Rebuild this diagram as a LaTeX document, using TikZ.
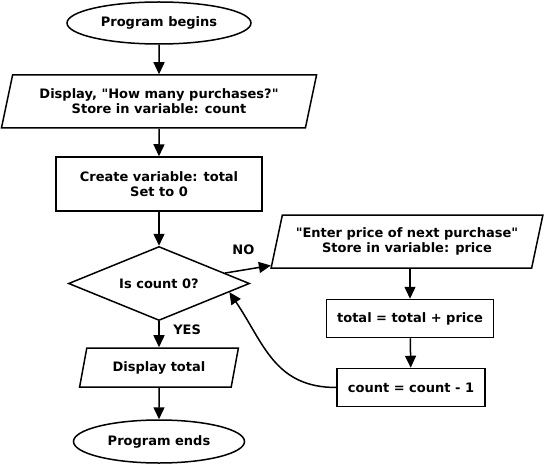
\documentclass[tikz,border=0pt]{standalone}
\usepackage{fontspec}
\setmainfont{DejaVu Sans}[Ligatures=TeXOff]
\usetikzlibrary{shapes.geometric,arrows.meta}

\begin{document}
\begin{tikzpicture}[auto, x=1pt, y=1pt, node distance=80pt, line width=1.5pt,
    >={Triangle[length=12pt,width=11pt]},
    font=\fontsize{13}{15}\selectfont\bfseries]
    \tikzstyle{terminal} = [draw, ellipse, inner sep=0pt]
    \tikzstyle{io} = [draw, trapezium, trapezium left angle=70,
    trapezium right angle=110, trapezium stretches=true,
    inner sep=0pt, align=center]
    \tikzstyle{process} = [draw, rectangle, inner sep=0pt, align=center]
    \tikzstyle{decision} = [draw, diamond, aspect=2.5, inner sep=0pt,
    minimum width=181pt, minimum height=74pt]
    \tikzstyle{lbl} = [inner sep=0pt]

    \useasboundingbox (0,0) rectangle (545,-465);

    \node [terminal, minimum width=184pt, minimum height=42pt] (start) at (159,-23) {Program begins};
    \node [io, below of=start, node distance=78.5pt, minimum width=316pt, minimum height=53pt] (askcount) {Display, "How many purchases?"\\Store in variable: count};
    \node [process, below of=askcount, node distance=82.5pt, minimum width=206pt, minimum height=54pt] (settotal) {Create variable: total\\Set to 0};
    \node [decision, below of=settotal, node distance=99.5pt] (iszero) {Is count 0?};
    \node [io, below of=iszero, node distance=84pt, minimum width=159pt, minimum height=39pt] (showtotal) {Display total};
    \node [terminal, below of=showtotal, node distance=74pt, minimum width=171pt, minimum height=43pt] (stop) {Program ends};

    \node [io, minimum width=272pt, minimum height=53pt] (askprice) at (407,-241.5) {"Enter price of next purchase"\\Store in variable: price};
    \node [process, below of=askprice, node distance=77pt, xshift=3pt, minimum width=167pt, minimum height=38pt] (addprice) {total = total + price};
    \node [process, below of=addprice, node distance=69pt, xshift=1pt, minimum width=148pt, minimum height=38pt] (deccount) {count = count - 1};

    \draw [->] (start) -- (askcount);
    \draw [->] (askcount) -- (settotal);
    \draw [->] (settotal) -- (iszero);
    \draw [->] (iszero) -- node [lbl, pos=0.33, right=13.5pt] {YES} (showtotal);
    \draw [->] (showtotal) -- (stop);
    \draw [->] (iszero.9) -- node [lbl, pos=0.4, above=15pt] {NO} (askprice.190);
    \draw [->] (askprice.south -| addprice) -- (addprice);
    \draw [->] (addprice) -- (deccount);
    \draw [->] (deccount.west) to [out=180, in=-56, looseness=1.1] (iszero.-7);
\end{tikzpicture}
\end{document}
